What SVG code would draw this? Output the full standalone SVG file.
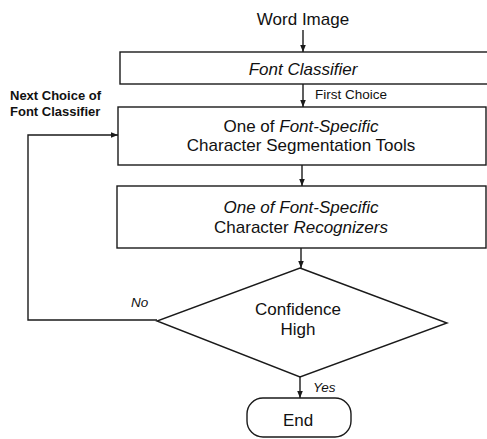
<svg xmlns="http://www.w3.org/2000/svg" width="487" height="439" viewBox="0 0 487 439">
<defs>
<marker id="ah" viewBox="0 0 10 10" refX="10" refY="5" markerWidth="7" markerHeight="7" markerUnits="userSpaceOnUse" orient="auto">
<path d="M0,1 L10,5 L0,9 z" fill="#1a1a1a"/>
</marker>
<style>
.s{fill:#fff;stroke:#1a1a1a;stroke-width:1.4}
.c{fill:none;stroke:#1a1a1a;stroke-width:1.4;marker-end:url(#ah)}
.l{fill:none;stroke:#1a1a1a;stroke-width:1.4}
text{font-family:"Liberation Sans",Arial,sans-serif;fill:#111}
.t{font-size:17px;text-anchor:middle}
.i{font-style:italic}
.sm{font-size:13.5px}
.b{font-size:13px;font-weight:bold}
</style>
</defs>
<rect width="487" height="439" fill="#fff"/>
<text class="t" x="303" y="25">Word Image</text>
<g id="font-classifier">
<rect class="s" x="120" y="52" width="372" height="32"/>
<text class="t i" x="303" y="75">Font Classifier</text>
</g>
<g id="segmentation">
<rect class="s" x="118" y="107" width="368" height="58"/>
<text class="t" x="301" y="132">One of <tspan class="i">Font-Specific</tspan></text>
<text class="t" x="301" y="151">Character Segmentation Tools</text>
</g>
<g id="recognizers">
<rect class="s" x="117" y="186" width="369" height="62"/>
<text class="t i" x="301" y="213">One of Font-Specific</text>
<text class="t" x="301" y="233">Character <tspan class="i">Recognizers</tspan></text>
</g>
<g id="decision">
<polygon class="s" points="300,268 447,323 300,377 157,321"/>
<text class="t" x="298" y="315">Confidence</text>
<text class="t" x="298" y="335">High</text>
</g>
<g id="end">
<rect class="s" x="247" y="398" width="104" height="39" rx="16" ry="16"/>
<text class="t" x="298" y="426">End</text>
</g>
<g id="connectors">
<line class="c" x1="303" y1="30" x2="303" y2="52"/>
<line class="c" x1="303" y1="84" x2="303" y2="107"/>
<line class="c" x1="302" y1="165" x2="302" y2="186"/>
<line class="c" x1="301" y1="248" x2="301" y2="268"/>
<line class="c" x1="300" y1="377" x2="300" y2="398"/>
<polyline class="c" points="157,320 28,320 28,135 118,135"/>
<text class="sm" x="315" y="99">First Choice</text>
<text class="b" x="10" y="100">Next Choice of</text>
<text class="b" x="10" y="116">Font Classifier</text>
<text class="sm i" x="131" y="307">No</text>
<text class="sm i" x="313" y="392">Yes</text>
</g>
</svg>
